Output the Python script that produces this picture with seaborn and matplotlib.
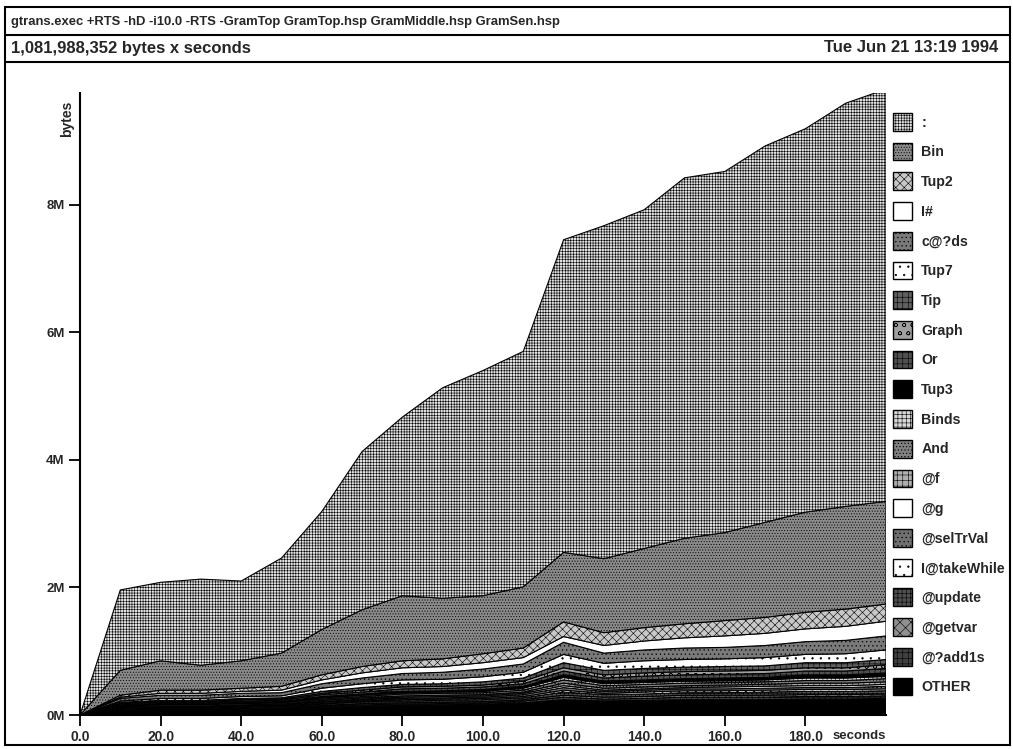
import matplotlib
matplotlib.use("Agg")
import matplotlib.pyplot as plt
from matplotlib.patches import Patch, Rectangle
from matplotlib.lines import Line2D
import seaborn as sns

sns.set_theme(style="ticks")
plt.rcParams["font.family"] = ["Liberation Sans", "DejaVu Sans"]
plt.rcParams["font.weight"] = "bold"
plt.rcParams["hatch.linewidth"] = 0.4
plt.rcParams["hatch.color"] = "black"

# ── data (MB, sampled every 10 s) ─────────────────────────────────────────────
times = [0, 10, 20, 30, 40, 50, 60, 70, 80, 90, 100,
         110, 120, 130, 140, 150, 160, 170, 180, 190, 200]

colon      = [0, 1.26, 1.23, 1.35, 1.25, 1.49, 1.85, 2.48, 2.80, 3.30, 3.53,
              3.69, 4.90, 5.22, 5.31, 5.65, 5.66, 5.90, 6.01, 6.32, 6.46]
bin_       = [0, 0.39, 0.46, 0.39, 0.43, 0.52, 0.71, 0.89, 1.02, 0.95, 0.91,
              0.96, 1.09, 1.16, 1.24, 1.34, 1.38, 1.49, 1.57, 1.61, 1.61]
tup2       = [0, 0.03, 0.05, 0.05, 0.05, 0.06, 0.08, 0.10, 0.11, 0.12, 0.14,
              0.15, 0.23, 0.20, 0.21, 0.22, 0.24, 0.25, 0.26, 0.27, 0.27]
i_hash     = [0, 0.02, 0.03, 0.03, 0.03, 0.04, 0.06, 0.08, 0.09, 0.09, 0.10,
              0.10, 0.09, 0.12, 0.14, 0.16, 0.18, 0.19, 0.20, 0.22, 0.23]
c_ds       = [0, 0.04, 0.05, 0.05, 0.05, 0.05, 0.07, 0.09, 0.10, 0.11, 0.12,
              0.13, 0.19, 0.16, 0.17, 0.18, 0.18, 0.19, 0.20, 0.21, 0.22]
tup7       = [0, 0.02, 0.03, 0.03, 0.03, 0.03, 0.05, 0.06, 0.07, 0.07, 0.08,
              0.09, 0.13, 0.11, 0.12, 0.12, 0.12, 0.13, 0.13, 0.14, 0.15]
tip        = [0, 0.01, 0.02, 0.02, 0.02, 0.02, 0.03, 0.04, 0.04, 0.04, 0.05,
              0.05, 0.08, 0.07, 0.07, 0.07, 0.07, 0.07, 0.08, 0.08, 0.08]
graph      = [0, 0.01, 0.01, 0.01, 0.02, 0.02, 0.02, 0.03, 0.03, 0.03, 0.03,
              0.04, 0.05, 0.05, 0.05, 0.05, 0.05, 0.05, 0.05, 0.05, 0.06]
or_        = [0, 0.02, 0.02, 0.02, 0.02, 0.02, 0.03, 0.03, 0.04, 0.04, 0.04,
              0.04, 0.06, 0.05, 0.06, 0.06, 0.06, 0.06, 0.06, 0.06, 0.07]
tup3       = [0, 0.01, 0.01, 0.01, 0.01, 0.01, 0.02, 0.02, 0.02, 0.02, 0.03,
              0.03, 0.04, 0.04, 0.04, 0.04, 0.04, 0.04, 0.05, 0.05, 0.05]
binds      = [0, 0.01, 0.01, 0.01, 0.01, 0.01, 0.02, 0.02, 0.02, 0.02, 0.02,
              0.03, 0.04, 0.03, 0.03, 0.03, 0.03, 0.03, 0.04, 0.04, 0.04]
and_       = [0, 0.01, 0.02, 0.02, 0.02, 0.02, 0.02, 0.02, 0.03, 0.03, 0.03,
              0.03, 0.05, 0.04, 0.04, 0.04, 0.04, 0.04, 0.04, 0.04, 0.05]
at_f       = [0, 0.01, 0.01, 0.01, 0.01, 0.01, 0.02, 0.02, 0.02, 0.02, 0.02,
              0.02, 0.04, 0.03, 0.03, 0.03, 0.03, 0.03, 0.04, 0.04, 0.04]
at_g       = [0, 0.01, 0.01, 0.01, 0.01, 0.01, 0.01, 0.01, 0.02, 0.02, 0.02,
              0.02, 0.03, 0.02, 0.02, 0.02, 0.03, 0.03, 0.03, 0.03, 0.03]
seltrval   = [0, 0.01, 0.01, 0.01, 0.01, 0.01, 0.02, 0.02, 0.02, 0.02, 0.02,
              0.03, 0.04, 0.03, 0.03, 0.03, 0.03, 0.03, 0.03, 0.03, 0.04]
takewhile  = [0, 0.01, 0.01, 0.01, 0.01, 0.01, 0.01, 0.01, 0.02, 0.02, 0.02,
              0.02, 0.03, 0.02, 0.03, 0.03, 0.03, 0.03, 0.03, 0.03, 0.03]
update     = [0, 0.01, 0.01, 0.01, 0.02, 0.02, 0.02, 0.03, 0.03, 0.03, 0.03,
              0.03, 0.05, 0.04, 0.04, 0.04, 0.04, 0.05, 0.05, 0.05, 0.05]
getvar     = [0, 0.01, 0.01, 0.01, 0.01, 0.01, 0.01, 0.02, 0.02, 0.02, 0.02,
              0.02, 0.03, 0.03, 0.03, 0.03, 0.03, 0.03, 0.03, 0.03, 0.03]
add1s      = [0, 0.01, 0.01, 0.01, 0.01, 0.01, 0.02, 0.02, 0.02, 0.02, 0.02,
              0.03, 0.04, 0.03, 0.03, 0.04, 0.04, 0.04, 0.04, 0.04, 0.04]
other      = [0, 0.06, 0.07, 0.07, 0.08, 0.09, 0.12, 0.14, 0.15, 0.16, 0.17,
              0.19, 0.24, 0.22, 0.23, 0.24, 0.24, 0.24, 0.25, 0.25, 0.26]

# legend order = stack order, top first
labels = [":", "Bin", "Tup2", "I#", "c@?ds", "Tup7", "Tip", "Graph", "Or", "Tup3",
          "Binds", "And", "@f", "@g", "@selTrVal", "I@takeWhile", "@update",
          "@getvar", "@?add1s", "OTHER"]
series = [colon, bin_, tup2, i_hash, c_ds, tup7, tip, graph, or_, tup3,
          binds, and_, at_f, at_g, seltrval, takewhile, update,
          getvar, add1s, other]

x_ticks = [0, 20, 40, 60, 80, 100, 120, 140, 160, 180]
x_ticklabels = ["0.0", "20.0", "40.0", "60.0", "80.0", "100.0",
                "120.0", "140.0", "160.0", "180.0"]
y_ticks = [0, 2, 4, 6, 8]
y_ticklabels = ["0M", "2M", "4M", "6M", "8M"]

# grey-scale fills + hatch textures, same order as labels
styles = [
    ("#e2e2e2", "++++++"), ("#8a8a8a", "......"), ("#c8c8c8", "xxxx"), ("white", ""),
    ("#7a7a7a", "...."), ("white", ".."), ("#606060", "+++"), ("#a0a0a0", "oo"),
    ("#505050", "+++"), ("black", ""), ("#d8d8d8", "++++"), ("#808080", "....."),
    ("#b0b0b0", "+++"), ("white", ""), ("#707070", "...."), ("white", ".."),
    ("#505050", "++++"), ("#909090", "xxx"), ("#404040", "+++"), ("black", ""),
]

# ── figure ────────────────────────────────────────────────────────────────────
fig = plt.figure(figsize=(10.13, 7.49), dpi=100)
W, H = 1013, 749
ax = fig.add_axes([80 / W, 1 - 715 / H, (886 - 80) / W, (715 - 93) / H])

polys = ax.stackplot(times, series[::-1], edgecolor="black", linewidth=0.8)
for poly, (fc, hatch) in zip(polys, styles[::-1]):
    poly.set_facecolor(fc)
    poly.set_hatch(hatch)

ax.set_xlim(0, 200)
ax.set_ylim(0, 9.75)
ax.set_xticks(x_ticks)
ax.set_xticklabels(x_ticklabels, fontsize=10, fontweight="bold")
ax.set_yticks(y_ticks)
ax.set_yticklabels(y_ticklabels, fontsize=9.5, fontweight="bold")
ax.tick_params(axis="both", direction="out", length=8, width=1.3, color="black", pad=3)
sns.despine(ax=ax, top=True, right=True)
for side in ("left", "bottom"):
    ax.spines[side].set_linewidth(1.5)
    ax.spines[side].set_color("black")
ax.set_facecolor("white")

ax.annotate("seconds", xy=(180, 0), xycoords="data", xytext=(27, -21),
            textcoords="offset pixels", ha="left", va="center",
            fontsize=9.5, fontweight="bold")
fig.text(67 / W, 1 - 119 / H, "bytes", rotation=90, ha="center", va="center",
         fontsize=10, fontweight="bold")

# legend to the right of the plot
handles = [Patch(facecolor=fc, hatch=h, edgecolor="black", linewidth=1.0)
           for fc, h in styles]
fig.legend(handles, labels, loc="upper left", bbox_to_anchor=(893 / W, 1 - 113 / H),
           frameon=False, handlelength=1.35, handleheight=1.55,
           handletextpad=0.65, labelspacing=0.845, borderpad=0, borderaxespad=0,
           prop={"weight": "bold", "size": 10.2})

# header boxes (hp2ps style)
fig.add_artist(Rectangle((5 / W, 1 - 745 / H), 1005 / W, 738 / H, fill=False,
                         edgecolor="black", linewidth=1.5, transform=fig.transFigure))
for yy in (35, 62):
    fig.add_artist(Line2D([5 / W, 1010 / W], [1 - yy / H, 1 - yy / H], color="black",
                          linewidth=1.5, transform=fig.transFigure))
fig.text(11 / W, 1 - 22 / H,
         "gtrans.exec +RTS -hD -i10.0 -RTS -GramTop GramTop.hsp GramMiddle.hsp GramSen.hsp",
         ha="left", va="center", fontsize=9.4, fontweight="bold")
fig.text(11 / W, 1 - 48 / H, "1,081,988,352 bytes x seconds",
         ha="left", va="center", fontsize=12, fontweight="bold")
fig.text(998 / W, 1 - 48 / H, "Tue Jun 21 13:19 1994",
         ha="right", va="center", fontsize=12, fontweight="bold")

fig.savefig("out.png", dpi=100, facecolor="white")
